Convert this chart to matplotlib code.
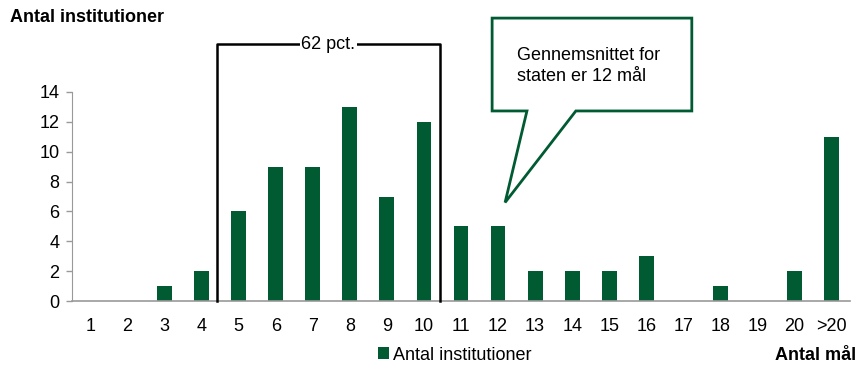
import matplotlib.pyplot as plt
from matplotlib.patches import Polygon
import numpy as np

plt.rcParams['font.family'] = ['Liberation Sans', 'DejaVu Sans']

kategorier = ['1', '2', '3', '4', '5', '6', '7', '8', '9', '10',
              '11', '12', '13', '14', '15', '16', '17', '18', '19', '20', '>20']
antal = [0, 0, 1, 2, 6, 9, 9, 13, 7, 12, 5, 5, 2, 2, 2, 3, 0, 1, 0, 2, 11]
y_ticks = [0, 2, 4, 6, 8, 10, 12, 14]

gron = '#005a32'
fs = 13

fig = plt.figure(figsize=(8.57, 3.65), dpi=100)
ax = fig.add_axes([72/857, 1 - 301/365, 778/857, (301 - 92)/365])

x = np.arange(len(kategorier))
ax.bar(x, antal, width=0.4, color=gron, label='Antal institutioner')

ax.set_xlim(-0.5, len(kategorier) - 0.5)
ax.set_ylim(0, 14)
ax.set_yticks(y_ticks)
ax.set_xticks(x)
ax.set_xticklabels(kategorier)
ax.tick_params(axis='x', length=0, pad=12, labelsize=fs)
ax.tick_params(axis='y', length=4, width=1, color='#999999', pad=5, labelsize=fs)
for s in ['top', 'right']:
    ax.spines[s].set_visible(False)
ax.spines['left'].set_color('#999999')
ax.spines['bottom'].set_color('#999999')
ax.spines['bottom'].set_linewidth(1.2)

# bracket around 5-10 maal
ax.plot([3.41, 3.41, 9.43, 9.43], [0, 17.2, 17.2, 0], color='black', lw=1.8,
        clip_on=False, zorder=3)
ax.text(6.42, 17.2, '62 pct.', ha='center', va='center', fontsize=fs,
        bbox=dict(facecolor='white', edgecolor='none', pad=1), zorder=4)

# speech bubble
boble = Polygon([(10.84, 18.95), (16.23, 18.95), (16.23, 12.73), (13.10, 12.73),
                 (11.19, 6.6), (11.78, 12.73), (10.84, 12.73)],
                closed=True, facecolor='white', edgecolor=gron, lw=2,
                clip_on=False, zorder=5)
ax.add_patch(boble)
ax.text(11.51, 15.74, 'Gennemsnittet for\nstaten er 12 mål', ha='left', va='center',
        fontsize=fs, linespacing=1.35, zorder=6)

fig.text(10/857, 1 - 18/365, 'Antal institutioner', fontsize=fs,
         fontweight='bold', ha='left', va='center')
fig.text(856/857, 1 - 355/365, 'Antal mål', fontsize=fs,
         fontweight='bold', ha='right', va='center')

fig.legend(loc='center', bbox_to_anchor=(455/857, 1 - 355/365), frameon=False,
           fontsize=fs, handlelength=0.6, handleheight=0.6, handletextpad=0.25)

fig.savefig('out.png', dpi=100)
